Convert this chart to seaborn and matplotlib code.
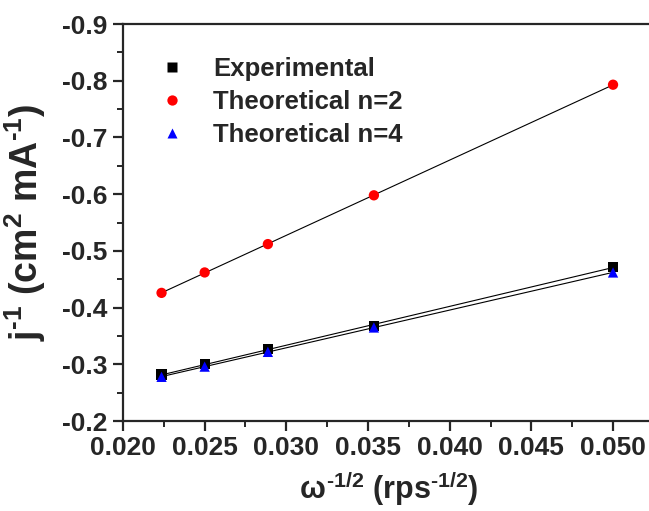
import numpy as np
import pandas as pd
import seaborn as sns
import matplotlib.pyplot as plt
from matplotlib.ticker import MultipleLocator

sns.set_style("ticks")
plt.rcParams['font.family'] = ['Liberation Sans', 'DejaVu Sans']
plt.rcParams['axes.unicode_minus'] = False
plt.rcParams['mathtext.fontset'] = 'custom'
plt.rcParams['mathtext.rm'] = 'Liberation Sans:bold'
plt.rcParams['mathtext.bf'] = 'Liberation Sans:bold'
plt.rcParams['mathtext.it'] = 'Liberation Sans:bold'

# data: omega^-1/2 vs j^-1
omega_inv_sqrt = [0.02236, 0.025, 0.02887, 0.03536, 0.05]
experimental = [-0.282, -0.300, -0.327, -0.367, -0.472]
theoretical_n2 = [-0.426, -0.462, -0.512, -0.598, -0.793]
theoretical_n4 = [-0.278, -0.296, -0.322, -0.365, -0.462]

series_names = ['Experimental', 'Theoretical n=2', 'Theoretical n=4']
series_values = [experimental, theoretical_n2, theoretical_n4]
colors = ['black', 'red', 'blue']
markers = ['s', 'o', '^']

df = pd.concat([pd.DataFrame({'x': omega_inv_sqrt, 'y': v, 'series': n})
                for n, v in zip(series_names, series_values)])

fig = plt.figure(figsize=(6.49, 5.11), dpi=100)
ax = fig.add_axes([0.1895, 0.176, 0.818, 0.777])

# linear fit lines
for name in series_names:
    sns.regplot(data=df[df['series'] == name], x='x', y='y', ax=ax,
                scatter=False, ci=None, color='black',
                line_kws={'lw': 0.8, 'zorder': 2})

# markers
sns.scatterplot(data=df, x='x', y='y', hue='series', style='series',
                hue_order=series_names, style_order=series_names,
                palette=colors, markers=markers, s=55, edgecolor='none',
                ax=ax, zorder=3)

handles, labels = ax.get_legend_handles_labels()
ax.legend(handles, labels, loc='upper left', bbox_to_anchor=(0.02, 0.975),
          frameon=False, handletextpad=1.0, handlelength=1.2,
          labelspacing=0.35, markerscale=1.0,
          prop={'weight': 'bold', 'size': 18.5})

# axes styling
ax.set_xlim(0.020, 0.0525)
ax.set_ylim(-0.2, -0.9)
ax.xaxis.set_major_locator(MultipleLocator(0.005))
ax.xaxis.set_minor_locator(MultipleLocator(0.0025))
ax.yaxis.set_major_locator(MultipleLocator(0.1))
ax.yaxis.set_minor_locator(MultipleLocator(0.05))
ax.xaxis.set_major_formatter(plt.FormatStrFormatter('%.3f'))
ax.yaxis.set_major_formatter(plt.FormatStrFormatter('%.1f'))
ax.tick_params(which='major', direction='out', length=7, width=1.6,
               labelsize=19, pad=4)
ax.tick_params(which='minor', direction='out', length=4, width=1.4)
for lbl in ax.get_xticklabels() + ax.get_yticklabels():
    lbl.set_fontweight('bold')
for side in ['left', 'bottom', 'top']:
    ax.spines[side].set_linewidth(1.6)
ax.spines['right'].set_visible(False)

ax.set_xlabel(r'$\omega^{\text{-}1/2}$ (rps$^{\text{-}1/2}$)', fontsize=22,
              fontweight='bold', labelpad=6)
ax.set_ylabel(r'j$^{\text{-}1}$ (cm$^{2}$ mA$^{\text{-}1}$)', fontsize=27,
              fontweight='bold', labelpad=10)

fig.savefig('out.png', dpi=100)
